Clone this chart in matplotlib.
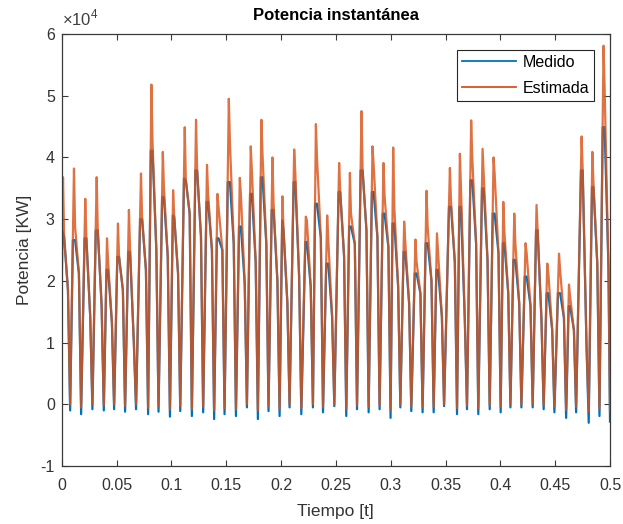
import matplotlib
matplotlib.use("Agg")
import matplotlib.pyplot as plt
from matplotlib.ticker import FuncFormatter
import numpy as np

plt.rcParams['font.family'] = ['Liberation Sans', 'DejaVu Sans']
plt.rcParams['mathtext.fontset'] = 'custom'
plt.rcParams['mathtext.rm'] = 'Liberation Sans'
plt.rcParams['axes.unicode_minus'] = False

# ---- data (values in units of 1e4 W) ----
SCALE = 1e4
t_start = 0.0
v_start = 1.9

t_peak = [0.0012, 0.0112, 0.0215, 0.0319, 0.0413, 0.0513, 0.0613, 0.0723, 0.0818, 0.0922,
          0.1016, 0.1122, 0.1225, 0.1325, 0.1420, 0.1524, 0.1624, 0.1724, 0.1821, 0.1922,
          0.2013, 0.2120, 0.2226, 0.2318, 0.2421, 0.2530, 0.2628, 0.2734, 0.2834, 0.2934,
          0.3023, 0.3123, 0.3226, 0.3327, 0.3422, 0.3540, 0.3631, 0.3734, 0.3838, 0.3938,
          0.4027, 0.4127, 0.4230, 0.4330, 0.4428, 0.4535, 0.4626, 0.4741, 0.4839, 0.4941]

est_peak = [3.68, 3.82, 3.33, 3.68, 2.69, 2.93, 3.15, 3.74, 5.18, 4.09,
            3.47, 4.49, 4.61, 3.88, 3.41, 4.95, 3.67, 4.18, 4.61, 4.00,
            3.37, 4.13, 3.04, 4.54, 3.06, 3.91, 3.75, 4.75, 4.18, 3.91,
            4.16, 2.96, 2.67, 3.46, 2.77, 3.83, 4.06, 4.60, 4.14, 4.00,
            3.28, 3.09, 2.61, 3.23, 2.28, 2.44, 1.94, 4.34, 4.09, 5.81]

med_peak = [2.80, 2.66, 2.69, 2.82, 2.18, 2.39, 2.47, 3.00, 4.11, 3.36,
            3.06, 3.66, 3.79, 3.28, 2.69, 3.60, 2.88, 3.41, 3.68, 3.15,
            2.98, 3.60, 2.63, 3.25, 2.28, 3.44, 2.88, 3.79, 3.44, 3.09,
            2.93, 2.47, 2.12, 2.61, 2.18, 3.20, 3.20, 3.63, 3.50, 3.09,
            2.61, 2.34, 2.07, 2.82, 1.80, 1.80, 1.59, 3.79, 3.52, 4.49]

shoulder = [2.72, 2.88, 2.69, 2.82, 2.31, 2.39, 2.55, 3.04, 4.27, 3.52,
            3.04, 3.63, 3.79, 3.41, 3.20, 4.25, 3.41, 3.79, 4.06, 3.25,
            2.82, 3.76, 2.98, 4.00, 2.66, 3.44, 3.09, 3.79, 3.90, 3.39,
            3.20, 2.63, 2.31, 2.88, 2.47, 3.30, 3.50, 4.00, 3.74, 3.74,
            2.80, 2.61, 2.45, 2.82, 2.12, 2.18, 1.75, 3.79, 3.60, 5.13]

knee = [1.85, 2.12, 1.42, 1.60, 1.32, 1.85, 0.99, 2.18, 2.50, 2.40,
        2.12, 3.09, 2.72, 2.50, 2.50, 2.60, 1.96, 2.30, 2.60, 2.00,
        1.64, 2.07, 1.90, 2.70, 1.42, 2.40, 2.60, 2.82, 2.71, 2.55,
        1.91, 1.64, 1.80, 2.00, 1.42, 2.30, 1.37, 2.60, 2.34, 2.45,
        1.80, 1.64, 1.60, 1.37, 1.20, 1.40, 1.20, 0.94, 2.28, 2.20]

med_trough = [-0.10, -0.16, -0.08, -0.10, -0.08, -0.12, -0.08, -0.16, -0.12, -0.20,
              -0.11, -0.19, -0.13, -0.24, -0.16, -0.19, -0.05, -0.24, -0.11, -0.19,
              -0.05, -0.16, -0.05, -0.13, -0.03, -0.19, -0.08, -0.13, -0.08, -0.22,
              -0.05, -0.11, -0.13, -0.13, -0.03, -0.16, -0.08, -0.16, -0.08, -0.13,
              -0.05, -0.05, -0.05, -0.08, -0.13, -0.22, -0.13, -0.30, -0.19, -0.28]

est_trough = [0.00, -0.05, 0.00, -0.02, 0.00, -0.03, 0.00, -0.06, -0.03, -0.08,
              -0.03, -0.08, -0.04, -0.10, -0.06, -0.08, 0.00, -0.10, -0.03, -0.08,
              0.00, -0.06, 0.00, -0.04, 0.00, -0.08, -0.02, -0.04, -0.02, -0.09,
              0.00, -0.03, -0.04, -0.04, 0.00, -0.06, -0.02, -0.06, -0.02, -0.04,
              0.00, 0.00, 0.00, -0.02, -0.04, -0.09, -0.04, -0.12, -0.07, -0.12]

# waveform timing within each cycle (relative to the peak)
D_SHOULDER = 0.0010
D_KNEE = 0.0045
D_TROUGH = 0.0065
T_END = 0.5

t_est, y_est, t_med, y_med = [t_start], [v_start], [t_start], [v_start]
prev_t, prev_e, prev_m = t_start, v_start, v_start
for i, tp in enumerate(t_peak):
    tt = min(tp + D_TROUGH, T_END)
    tk = min(tp + D_KNEE, tt - 0.001)
    # estimated: trough -> spike -> shoulder -> knee -> trough
    t_est += [tp, tp + D_SHOULDER, tk, tt]
    y_est += [est_peak[i], shoulder[i], knee[i], est_trough[i]]
    # measured: follows the same rising edge up to its own (lower) peak
    frac = (med_peak[i] - prev_m) / (est_peak[i] - prev_e)
    tm = prev_t + (tp - prev_t) * frac
    t_med += [tm, tp + D_SHOULDER, tk, tt]
    y_med += [med_peak[i], min(shoulder[i], med_peak[i]), knee[i], med_trough[i]]
    prev_t, prev_e, prev_m = tt, est_trough[i], med_trough[i]

t_est = np.array(t_est); y_est = np.array(y_est) * SCALE
t_med = np.array(t_med); y_med = np.array(y_med) * SCALE

# ---- figure ----
W, H = 623, 524
fig = plt.figure(figsize=(W / 100, H / 100), dpi=100)
ax = fig.add_axes([61.7 / W, (H - 466) / H, (610 - 61.7) / W, (466 - 34) / H])

blue = '#0072BD'
orange = '#D95319'
ax.plot(t_med, y_med, color=blue, lw=1.6, label='Medido')
ax.plot(t_est, y_est, color=orange, lw=1.6, alpha=0.82, label='Estimada')

ax.set_xlim(0, 0.5)
ax.set_ylim(-1e4, 6e4)
ax.set_xticks(np.arange(0, 0.5001, 0.05))
ax.xaxis.set_major_formatter(FuncFormatter(lambda v, p: f"{v:g}"))
ax.set_yticks(np.arange(-1e4, 6.01e4, 1e4))
ax.yaxis.set_major_formatter(FuncFormatter(lambda v, p: f"{v / SCALE:g}"))
ax.text(0.0, 1.012, r'$\times10^{4}$', transform=ax.transAxes, fontsize=12,
        color='#404040', ha='left', va='bottom')

spine_c = '#3a3a3a'
for s in ax.spines.values():
    s.set_color(spine_c)
    s.set_linewidth(0.9)
ax.tick_params(direction='in', top=True, right=True, length=4, width=0.8,
               color=spine_c, labelcolor='#333333', labelsize=11.5)
ax.tick_params(axis='x', pad=8.5)
ax.tick_params(axis='y', pad=5)

ax.set_title('Potencia instantánea', fontsize=12, fontweight='bold', pad=10)
ax.set_xlabel('Tiempo [t]', fontsize=12.5, color='#333333', labelpad=8)
ax.set_ylabel('Potencia [KW]', fontsize=12.5, color='#333333', labelpad=6)

leg = ax.legend(loc='upper right', fontsize=11.5, handlelength=3.4, fancybox=False,
                framealpha=1, edgecolor='#262626', borderaxespad=1.0,
                borderpad=0.3, labelspacing=0.7, handletextpad=0.4)
leg.get_frame().set_linewidth(0.8)
for h in leg.get_lines():
    h.set_alpha(1)
    h.set_linewidth(1.3)

fig.savefig('out.png', dpi=100, facecolor='white')
